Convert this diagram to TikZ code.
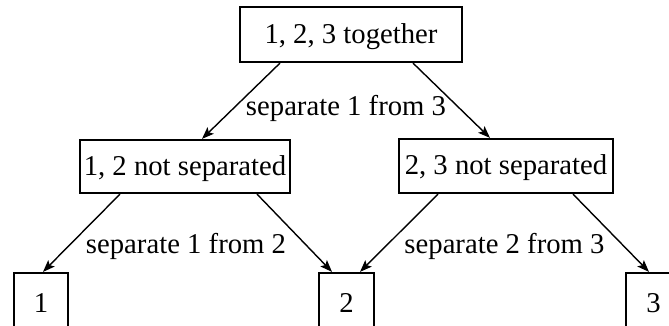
\documentclass[tikz,border=0pt]{standalone}
\usepackage{fontspec}
\setmainfont{Liberation Serif}
\usetikzlibrary{arrows.meta}
\begin{document}
\begin{tikzpicture}[x=1pt,y=-1pt,
  txt/.style={font=\fontsize{28.7}{34}\selectfont},
  box/.style={txt, draw, line width=2.2pt, inner sep=0pt, text height=23pt, text depth=5pt},
  conn/.style={line width=1.4pt, -{Stealth[length=12pt,width=9pt,inset=2.5pt]}},
  lbl/.style={txt, inner sep=0pt, anchor=base}]
\useasboundingbox (0,0) rectangle (669,326);
\clip (0,0) rectangle (669,326);
\node[box, minimum width=222pt, minimum height=55pt] (top) at (351,34.5) {1, 2, 3 together};
\node[box, minimum width=210pt, minimum height=53pt] (ml) at (185,166.5) {1, 2 not separated};
\node[box, minimum width=214pt, minimum height=54pt] (mr) at (506,166) {2, 3 not separated};
\node[box, minimum width=54pt, minimum height=60pt] (b1) at (41,303) {1};
\node[box, minimum width=55pt, minimum height=60pt] (b2) at (346.5,303) {2};
\node[box, minimum width=55pt, minimum height=60pt] (b3) at (653.5,303) {3};
\draw[conn] ([xshift=-71pt]top.south) -- ([xshift=17pt]ml.north);
\draw[conn] ([xshift=62pt]top.south) -- ([xshift=-16pt]mr.north);
\draw[conn] ([xshift=-65pt]ml.south) -- ([xshift=2pt]b1.north);
\draw[conn] ([xshift=72pt]ml.south) -- ([xshift=-14.5pt]b2.north);
\draw[conn] ([xshift=-68pt]mr.south) -- ([xshift=13.5pt]b2.north);
\draw[conn] ([xshift=67pt]mr.south) -- ([xshift=-4.5pt]b3.north);
\node[lbl] (l1) at (346,116) {separate 1 from 3};
\node[lbl] (l2) at (186,253) {separate 1 from 2};
\node[lbl] (l3) at (504.5,253) {separate 2 from 3};
\end{tikzpicture}
\end{document}
